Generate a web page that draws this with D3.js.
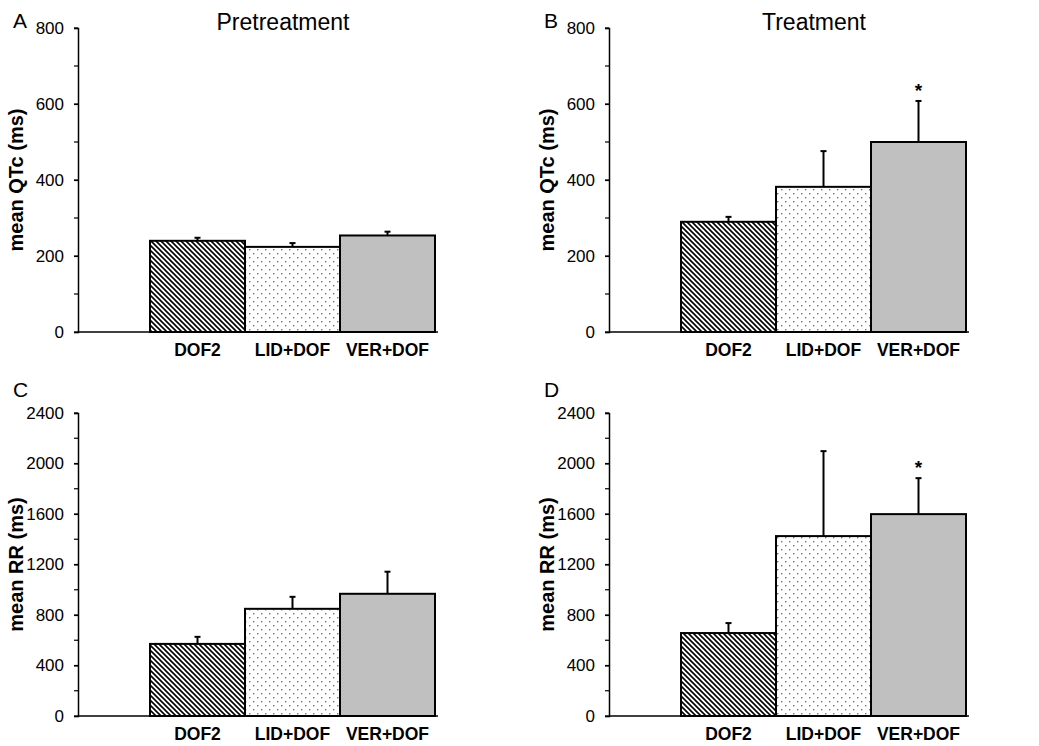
<!DOCTYPE html>
<html><head><meta charset="utf-8">
<script src="https://cdn.jsdelivr.net/npm/d3@7"></script>
<style>body{margin:0;background:#fff}svg{display:block}</style>
</head><body>
<script>
const categories = ["DOF2", "LID+DOF", "VER+DOF"];
const qtcPre = [240, 224, 254];
const qtcPreErr = [8, 10, 10];
const qtcTreat = [290, 382, 500];
const qtcTreatErr = [13, 94, 108];
const rrPre = [571, 849, 968];
const rrPreErr = [56, 95, 175];
const rrTreat = [657, 1425, 1599];
const rrTreatErr = [79, 673, 285];
const qtcTicks = [0, 200, 400, 600, 800];
const rrTicks = [0, 400, 800, 1200, 1600, 2000, 2400];
const treatStar = [false, false, true];

const W = 1039, H = 746;
const FONT = "Arial, 'Liberation Sans', sans-serif";
const svg = d3.select("body").append("svg").attr("width", W).attr("height", H)
  .style("font-family", FONT);

const defs = svg.append("defs");
const hatch = defs.append("pattern").attr("id", "hatch").attr("patternUnits", "userSpaceOnUse")
  .attr("width", 5).attr("height", 5);
hatch.append("rect").attr("width", 5).attr("height", 5).attr("fill", "#fff");
hatch.append("path").attr("d", "M-1,-1 L6,6 M-1,4 L1,6 M4,-1 L6,1").attr("stroke", "#000").attr("stroke-width", 1.6);
const dots = defs.append("pattern").attr("id", "dots").attr("patternUnits", "userSpaceOnUse")
  .attr("width", 8).attr("height", 8);
dots.append("rect").attr("width", 8).attr("height", 8).attr("fill", "#fff");
dots.append("rect").attr("x", 1).attr("y", 1).attr("width", 1.4).attr("height", 1.4).attr("fill", "#777");
dots.append("rect").attr("x", 5).attr("y", 5).attr("width", 1.4).attr("height", 1.4).attr("fill", "#777");
const fills = ["url(#hatch)", "url(#dots)", "#c0c0c0"];

function panel(opt) {
  const g = svg.append("g");
  const y = d3.scaleLinear().domain([0, opt.max]).range([opt.y0, opt.y1]);
  const x = d3.scaleBand().domain(categories).range([opt.ax + 72, opt.ax + 72 + 285]).padding(0);
  const minorVals = d3.range(0, opt.max + 1, opt.minor);
  g.selectAll(".mt").data(minorVals).join("line")
    .attr("x1", opt.ax - 4).attr("x2", opt.ax).attr("y1", d => y(d)).attr("y2", d => y(d))
    .attr("stroke", "#000").attr("stroke-width", 1.2);
  const axis = d3.axisLeft(y).tickValues(opt.ticks).tickSize(4).tickPadding(10).tickFormat(d3.format("d"));
  const ag = g.append("g").attr("transform", `translate(${opt.ax},0)`).call(axis);
  ag.attr("font-size", null).attr("font-family", null);
  ag.select(".domain").attr("stroke-width", 1.5);
  ag.selectAll(".tick line").attr("stroke-width", 1.2);
  ag.selectAll("text").style("font-size", "17px").style("font-family", FONT).attr("fill", "#000");
  g.append("line").attr("x1", opt.ax).attr("x2", opt.ax + 360).attr("y1", y(0)).attr("y2", y(0))
    .attr("stroke", "#000").attr("stroke-width", 1.5);
  categories.forEach((c, i) => {
    const cx = x(c) + x.bandwidth() / 2;
    g.append("line").attr("x1", cx).attr("x2", cx).attr("y1", y(opt.vals[i])).attr("y2", y(opt.vals[i] + opt.errs[i]))
      .attr("stroke", "#000").attr("stroke-width", 2);
    g.append("line").attr("x1", cx - 3).attr("x2", cx + 3).attr("y1", y(opt.vals[i] + opt.errs[i])).attr("y2", y(opt.vals[i] + opt.errs[i]))
      .attr("stroke", "#000").attr("stroke-width", 2);
    if (opt.star && opt.star[i]) {
      g.append("text").attr("x", cx).attr("y", y(opt.vals[i] + opt.errs[i]) - 4).attr("text-anchor", "middle")
        .style("font-size", "19px").attr("font-weight", "bold").text("*");
    }
  });
  g.selectAll(".bar").data(categories).join("rect")
    .attr("x", d => x(d)).attr("width", x.bandwidth())
    .attr("y", (d, i) => y(opt.vals[i])).attr("height", (d, i) => y(0) - y(opt.vals[i]))
    .attr("fill", (d, i) => fills[i]).attr("stroke", "#000").attr("stroke-width", 2);
  g.selectAll(".cl").data(categories).join("text")
    .attr("x", d => x(d) + x.bandwidth() / 2).attr("y", y(0) + 24).attr("text-anchor", "middle")
    .style("font-size", "17.5px").attr("font-weight", "bold").text(d => d);
  g.append("text").attr("transform", `translate(${opt.ax - 55},${(opt.y0 + opt.y1) / 2}) rotate(-90)`)
    .attr("text-anchor", "middle").style("font-size", "20px").attr("font-weight", "bold").text(opt.ylabel);
  g.append("text").attr("x", opt.ax - 65).attr("y", opt.letterY).style("font-size", "21px").text(opt.letter);
  if (opt.title) {
    g.append("text").attr("x", opt.ax + 205).attr("y", opt.y1 + 2).attr("text-anchor", "middle")
      .style("font-size", "23px").text(opt.title);
  }
}

panel({ax: 78, y0: 332, y1: 28, max: 800, minor: 100, ticks: qtcTicks, vals: qtcPre, errs: qtcPreErr,
  ylabel: "mean QTc (ms)", letter: "A", letterY: 28, title: "Pretreatment"});
panel({ax: 609, y0: 332, y1: 28, max: 800, minor: 100, ticks: qtcTicks, vals: qtcTreat, errs: qtcTreatErr,
  ylabel: "mean QTc (ms)", letter: "B", letterY: 28, title: "Treatment", star: treatStar});
panel({ax: 78, y0: 716, y1: 413, max: 2400, minor: 200, ticks: rrTicks, vals: rrPre, errs: rrPreErr,
  ylabel: "mean RR (ms)", letter: "C", letterY: 397});
panel({ax: 609, y0: 716, y1: 413, max: 2400, minor: 200, ticks: rrTicks, vals: rrTreat, errs: rrTreatErr,
  ylabel: "mean RR (ms)", letter: "D", letterY: 397, star: treatStar});
</script>
</body></html>
